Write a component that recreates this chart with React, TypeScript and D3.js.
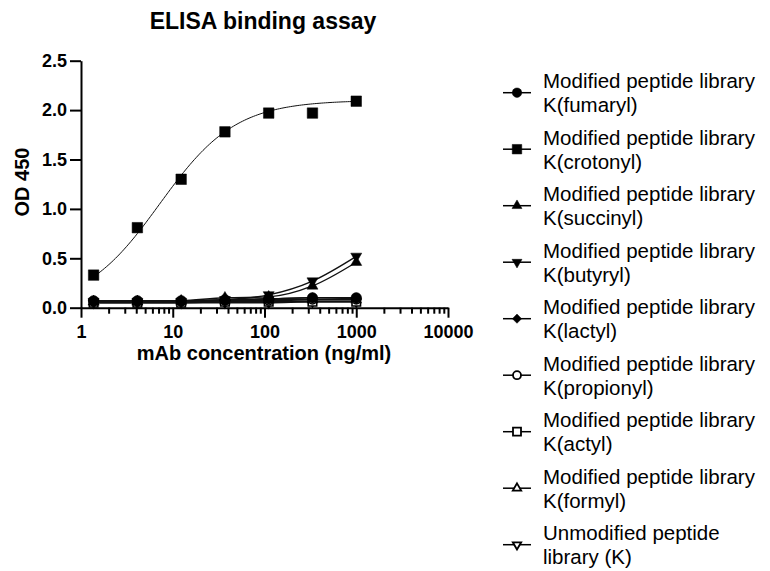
import { useEffect, useRef } from 'react';
import * as d3 from 'd3';

const width = 770;
const height = 571;
const font = "'Liberation Sans', Arial, sans-serif";

// 3-fold dilutions from 1000 ng/ml
const concentrations = [1.372, 4.115, 12.35, 37.04, 111.1, 333.3, 1000];

const fumaryl = [0.07, 0.07, 0.07, 0.08, 0.09, 0.1, 0.1];
const crotonyl = [0.33, 0.81, 1.3, 1.78, 1.97, 1.97, 2.09];
const succinyl = [0.06, 0.06, 0.07, 0.1, 0.11, 0.22, 0.46];
const butyryl = [0.06, 0.06, 0.06, 0.08, 0.13, 0.27, 0.52];
const lactyl = [0.07, 0.07, 0.07, 0.08, 0.09, 0.1, 0.09];
const propionyl = [0.06, 0.06, 0.06, 0.07, 0.07, 0.08, 0.08];
const actyl = [0.05, 0.05, 0.05, 0.06, 0.06, 0.06, 0.06];
const formyl = [0.06, 0.06, 0.06, 0.07, 0.08, 0.08, 0.08];
const unmodified = [0.05, 0.05, 0.05, 0.05, 0.05, 0.06, 0.06];

// 4PL fit of the crotonyl curve (bottom, top, EC50, hill)
const crotonylFit = [0, 2.1, 7.2, 1.05];

const legendLines = [
    ['Modified peptide library', 'K(fumaryl)'],
    ['Modified peptide library', 'K(crotonyl)'],
    ['Modified peptide library', 'K(succinyl)'],
    ['Modified peptide library', 'K(butyryl)'],
    ['Modified peptide library', 'K(lactyl)'],
    ['Modified peptide library', 'K(propionyl)'],
    ['Modified peptide library', 'K(actyl)'],
    ['Modified peptide library', 'K(formyl)'],
    ['Unmodified peptide', 'library (K)']
];

const xTicks = [1, 10, 100, 1000, 10000];
const yTicks = [0, 0.5, 1, 1.5, 2, 2.5];

type Series = { values: number[]; shape: string; open: boolean; fit?: number[] };

const series: Series[] = [
    { values: fumaryl, shape: 'circle', open: false },
    { values: crotonyl, shape: 'square', open: false, fit: crotonylFit },
    { values: succinyl, shape: 'up', open: false },
    { values: butyryl, shape: 'down', open: false },
    { values: lactyl, shape: 'diamond', open: false },
    { values: propionyl, shape: 'circle', open: true },
    { values: actyl, shape: 'square', open: true },
    { values: formyl, shape: 'up', open: true },
    { values: unmodified, shape: 'down', open: true }
];

function symbolPath(shape: string, s: number) {
    // s ~ marker width in px
    if (shape === 'circle') return d3.symbol(d3.symbolCircle, (Math.PI * s * s) / 4)()!;
    if (shape === 'square') return d3.symbol(d3.symbolSquare, s * s)()!;
    if (shape === 'diamond') return d3.symbol(d3.symbolDiamond2, s * s * 0.6)()!;
    return d3.symbol(d3.symbolTriangle, (Math.sqrt(3) / 4) * s * s * 1.1)()!;
}

export default function App() {
    const ref = useRef<SVGSVGElement>(null);

    useEffect(() => {
        const svg = d3.select(ref.current);
        svg.selectAll('*').remove();

        const x = d3.scaleLog().domain([1, 10000]).range([81, 448]);
        const y = d3.scaleLinear().domain([0, 2.5]).range([307.7, 60.7]);

        // title
        svg.append('text')
            .attr('x', 263)
            .attr('y', 29)
            .attr('text-anchor', 'middle')
            .style('font', `bold 23px ${font}`)
            .text('ELISA binding assay');

        // curves
        const line = d3
            .line<[number, number]>()
            .x((d) => x(d[0]))
            .y((d) => y(d[1]))
            .curve(d3.curveMonotoneX);

        const curves = svg.append('g').attr('fill', 'none').attr('stroke', '#111');
        series.forEach((s) => {
            let pts: [number, number][];
            if (s.fit) {
                const [b, t, c, h] = s.fit;
                const lx = d3.scaleLinear().domain([0, 120]).range([Math.log10(concentrations[0]), Math.log10(concentrations[concentrations.length - 1])]);
                pts = d3.range(0, 121).map((i) => {
                    const xv = Math.pow(10, lx(i));
                    return [xv, b + ((t - b) * Math.pow(xv / c, h)) / (1 + Math.pow(xv / c, h))];
                });
            } else {
                pts = concentrations.map((c, i) => [c, s.values[i]]);
            }
            curves.append('path').attr('d', line(pts)).attr('stroke-width', s.fit ? 1 : 1.4);
        });

        // markers, first series on top
        const marks = svg.append('g');
        [...series].reverse().forEach((s) => {
            const sz = s.open ? 8.5 : 10.5;
            const p = symbolPath(s.shape, sz);
            concentrations.forEach((c, i) => {
                marks
                    .append('path')
                    .attr('d', p)
                    .attr('transform', `translate(${x(c)},${y(s.values[i])})${s.shape === 'down' ? ' rotate(180)' : ''}`)
                    .attr('fill', s.open ? '#fff' : '#000')
                    .attr('stroke', '#000')
                    .attr('stroke-width', s.open ? 1.6 : 0.5);
            });
        });

        // axes
        const xAxis = svg
            .append('g')
            .attr('transform', `translate(0,${y(0)})`)
            .call(
                d3
                    .axisBottom(x)
                    .tickValues(xTicks)
                    .tickSize(10)
                    .tickSizeOuter(0)
                    .tickPadding(8)
                    .tickFormat(d3.format('d'))
            );
        const minors: number[] = [];
        xTicks.slice(0, -1).forEach((t) => d3.range(2, 10).forEach((m) => minors.push(t * m)));
        const xMinor = svg
            .append('g')
            .attr('transform', `translate(0,${y(0)})`)
            .call(d3.axisBottom(x).tickValues(minors).tickSize(6).tickSizeOuter(0).tickFormat(() => ''));
        xMinor.select('.domain').remove();

        const yAxis = svg
            .append('g')
            .attr('transform', 'translate(81,0)')
            .call(d3.axisLeft(y).tickValues(yTicks).tickSize(11).tickSizeOuter(0).tickPadding(3).tickFormat(d3.format('.1f')));

        [xAxis, xMinor, yAxis].forEach((g) => {
            g.selectAll('path, line').attr('stroke', '#000').attr('stroke-width', 2);
            g.selectAll('text').style('font', `bold 18px ${font}`).attr('fill', '#000');
        });

        // axis titles
        svg.append('text')
            .attr('x', 264)
            .attr('y', 360)
            .attr('text-anchor', 'middle')
            .style('font', `bold 20px ${font}`)
            .text('mAb concentration (ng/ml)');
        svg.append('text')
            .attr('transform', 'translate(28.5,182) rotate(-90)')
            .attr('text-anchor', 'middle')
            .style('font', `bold 20px ${font}`)
            .text('OD 450');

        // legend
        const legend = svg.append('g');
        series.forEach((s, i) => {
            const cy = 92.7 + i * 56.5;
            legend.append('line').attr('x1', 503).attr('x2', 531).attr('y1', cy).attr('y2', cy).attr('stroke', '#000').attr('stroke-width', 1.5);
            legend
                .append('path')
                .attr('d', symbolPath(s.shape, s.open ? 8 : 9.5))
                .attr('transform', `translate(517,${cy})${s.shape === 'down' ? ' rotate(180)' : ''}`)
                .attr('fill', s.open ? '#fff' : '#000')
                .attr('stroke', '#000')
                .attr('stroke-width', s.open ? 1.8 : 0.5);
            legendLines[i].forEach((t, j) => {
                legend
                    .append('text')
                    .attr('x', 543)
                    .attr('y', cy - 4.5 + j * 24)
                    .style('font', `20.5px ${font}`)
                    .text(t);
            });
        });
    }, []);

    return (
        <svg
            ref={ref}
            width={width}
            height={height}
            style={{ position: 'absolute', left: 0, top: 0, background: '#fff' }}
        />
    );
}
